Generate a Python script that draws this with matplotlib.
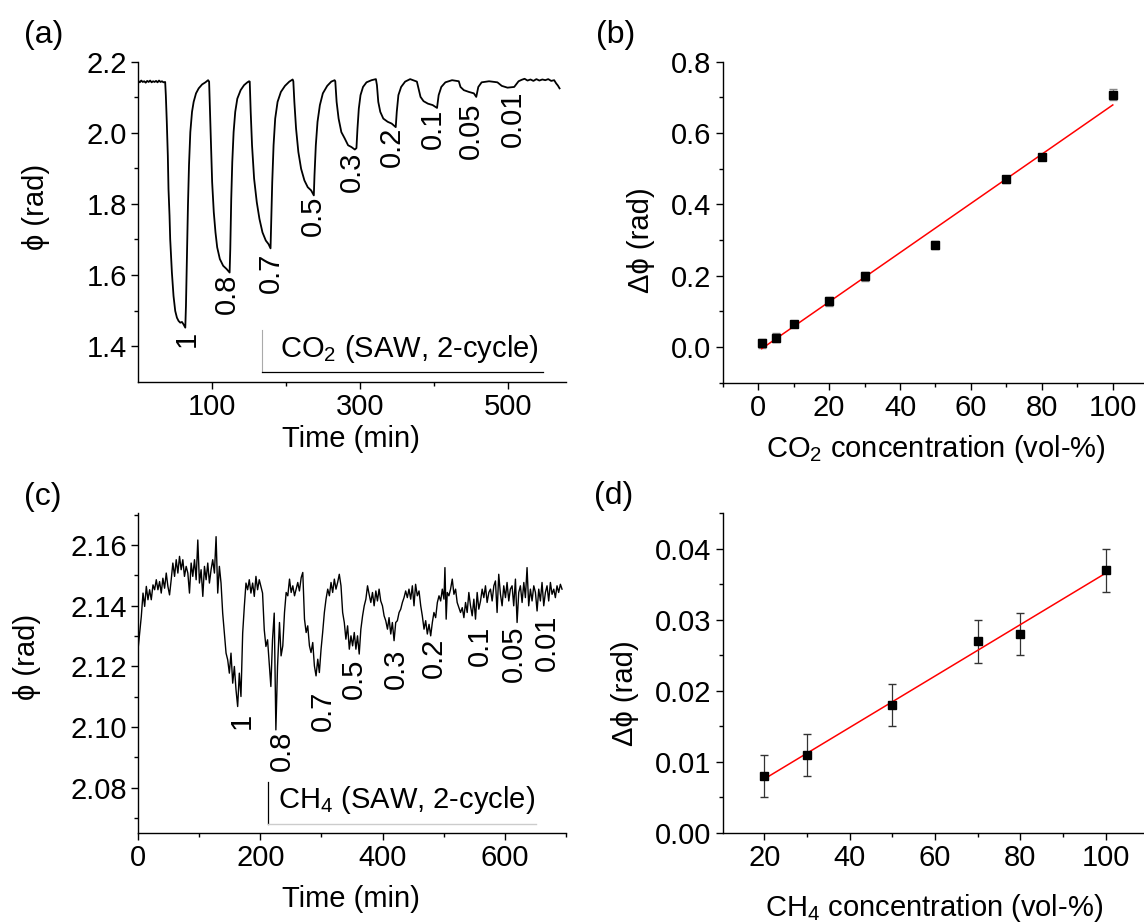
import numpy as np
import matplotlib
matplotlib.use('Agg')
import matplotlib.pyplot as plt
from matplotlib.ticker import FixedLocator, MultipleLocator, FormatStrFormatter

plt.rcParams['font.family'] = ['Liberation Sans', 'DejaVu Sans']
plt.rcParams['mathtext.fontset'] = 'custom'
plt.rcParams['mathtext.rm'] = 'Liberation Sans'
FS = 21

# ========== 数据 ==========
# (a) CO2 时间序列
t_co2 = [0, 2, 4, 6, 8, 10, 12, 14, 16, 18, 20, 22, 24, 26, 28, 30, 32, 34, 36.3,
         37.2, 38.5, 39.9, 40.8, 42.2, 43.1, 45.4, 47.6, 49.9, 52.2, 54.4, 56.7, 59, 61.2, 63.5,
         64.4, 65.8, 67.1, 68.5, 70.3, 72.6, 74.8, 78, 81.6, 86.2, 90.7, 94.3,
         95.7, 96.6, 98, 99.8, 102, 104.3, 106.6, 110.2, 114.7, 119.3, 123.4,
         124.3, 125.6, 127, 128.8, 131, 133.8, 138.3, 142.9, 147.4, 149.7,
         150.6, 151.9, 153.7, 156.5, 160.1, 163.7, 167.8, 172.3, 176, 178.7,
         179.6, 181, 182.8, 185, 188.2, 192.7, 198.2, 204.1, 208.6,
         209.5, 210.9, 213.2, 216.3, 220, 224.5, 229, 233.6, 237.2,
         238.1, 239.9, 242.2, 245.4, 249.4, 255.3, 260.8, 265.3,
         266.2, 268, 270.7, 274.4, 279, 283.5, 288, 292.6, 294.8,
         296.2, 298, 300.3, 303.7, 308.4, 315.2, 321.1,
         322.5, 324.3, 327, 331.1, 337, 342.4, 347.9,
         349.3, 351.5, 355.2, 360.6, 367.4, 376.5,
         378.7, 381.4, 385.5, 391.4, 397.8, 403.7,
         405.9, 409.5, 415, 424, 433.1,
         435.4, 439.9, 446.7, 453.5, 456.7,
         459.5, 464, 474, 485.3,
         491.2, 498.9, 508, 513.9, 518, 522, 526, 530, 534, 538, 542, 546, 550, 554,
         558, 562, 564.7, 567, 569.3]
phi_co2 = [2.146, 2.142, 2.147, 2.143, 2.145, 2.141, 2.146, 2.143, 2.147, 2.142, 2.145, 2.143,
           2.146, 2.142, 2.147, 2.143, 2.145, 2.142, 2.143,
           2.106, 2.031, 1.936, 1.842, 1.767, 1.701, 1.607, 1.541, 1.499, 1.480, 1.471, 1.466,
           1.468, 1.461, 1.452,
           1.513, 1.654, 1.795, 1.908, 2.002, 2.059, 2.087, 2.111, 2.125, 2.136, 2.142, 2.148,
           2.144, 2.078, 1.984, 1.861, 1.777, 1.720, 1.678, 1.645, 1.626, 1.617, 1.607,
           1.673, 1.814, 1.918, 2.002, 2.059, 2.096, 2.120, 2.134, 2.142, 2.145,
           2.144, 2.059, 1.965, 1.871, 1.805, 1.758, 1.720, 1.697, 1.687, 1.675,
           1.748, 1.861, 1.965, 2.040, 2.087, 2.115, 2.132, 2.144, 2.150,
           2.145, 2.087, 2.012, 1.946, 1.899, 1.866, 1.847, 1.838, 1.824,
           1.880, 1.965, 2.031, 2.078, 2.111, 2.132, 2.144, 2.148,
           2.145, 2.087, 2.040, 2.002, 1.984, 1.965, 1.960, 1.953, 1.957,
           2.012, 2.068, 2.106, 2.129, 2.142, 2.148, 2.151,
           2.134, 2.087, 2.059, 2.040, 2.031, 2.026, 2.016,
           2.059, 2.106, 2.129, 2.144, 2.151, 2.144,
           2.125, 2.101, 2.089, 2.082, 2.078, 2.070,
           2.106, 2.129, 2.142, 2.148, 2.145,
           2.129, 2.120, 2.115, 2.111, 2.101,
           2.129, 2.142, 2.145, 2.142,
           2.132, 2.127, 2.129, 2.145, 2.149, 2.152, 2.147, 2.150, 2.146, 2.151, 2.147, 2.150,
           2.148, 2.151, 2.146, 2.148, 2.139, 2.133, 2.125]
co2_labels = ['1', '0.8', '0.7', '0.5', '0.3', '0.2', '0.1', '0.05', '0.01']

# (b) CO2 标定
co2_conc = [1, 5, 10, 20, 30, 50, 70, 80, 100]
co2_dphi = [0.010, 0.026, 0.064, 0.128, 0.198, 0.286, 0.470, 0.533, 0.708]
co2_err = [0.012, 0.012, 0.008, 0.012, 0.012, 0.010, 0.010, 0.008, 0.015]

# (c) CH4 时间序列
t_ch4 = [0, 2.7, 5.4, 8.2, 10.9, 13.6, 16.3, 19, 21.7, 24.5, 27.2, 29.9, 32.6, 35.3, 38, 40.7,
         43.5, 46.2, 48.9, 51.6, 54.3, 57, 59.8, 62.5, 65.2, 67.9, 70.6, 73.3, 76, 78.8, 81.5,
         84.2, 86.9, 89.6, 92.4, 95.1, 97.8, 100.5, 103.2, 106, 108.7, 111.4, 114.1, 116.8,
         119.5, 122.2, 125, 127.7, 130.4, 133.1, 135.8, 138.5, 141.3, 144, 146.7, 149.4,
         152.1, 154.9, 157.6, 160.3, 163, 165.7, 168.4, 171.2, 173.9, 176.6, 179.3, 182,
         184.7, 187.5, 190.2, 192.9, 195.6, 198.3, 201, 203.7, 206.5, 209.2, 211.9, 214.6,
         217.3, 220, 222.8, 225.5, 228.2, 231.4, 234, 236.8, 239.6, 242.3, 245, 247.8, 250.5,
         253.2, 256, 258.6, 261.3, 264, 266.9, 269.5, 272.3, 275, 277.6, 280.4, 283, 285.8,
         288.5, 291.2, 294, 296.6, 299.4, 302, 304.8, 307.5, 310.3, 313, 315.7, 318.4, 321.1,
         323.8, 326.5, 329.2, 332, 334.7, 337.4, 340, 342.8, 345.6, 348.3, 351, 353.7, 356.4,
         359, 361.8, 364.5, 367.3, 370, 372.7, 375.4, 378, 380.8, 383.5, 386.2, 389, 391.6,
         394.3, 397, 399.8, 402.5, 405.2, 408, 410.6, 413.4, 416, 418.8, 421.5, 424.2, 427,
         429.7, 432.4, 435.1, 437.8, 440.5, 443.2, 446, 448.7, 451.4, 454, 456.8, 459.6,
         462.4, 465, 467.8, 470.5, 473.2, 476, 478.7, 481.4, 484, 486.8, 489.6, 492.3, 495,
         497.7, 500.4, 502, 504, 505.8, 508.5, 511.2, 514, 516.7, 519.4, 522, 524.8, 527.5,
         530.3, 533, 535.7, 538.4, 541.1, 543.8, 546.6, 549.3, 552, 554.7, 557.4, 560.2,
         562.9, 565.6, 568.3, 571, 573.8, 576.5, 579.2, 582, 584.6, 587.3, 590, 592.8, 595.5,
         598.2, 601, 603.6, 606.4, 609, 611.8, 614.5, 617.3, 620, 622.7, 625.4, 628.2, 631,
         633.6, 636.3, 639, 641.8, 644.5, 647.3, 650, 652.7, 655.4, 658.1, 660.8, 663.6,
         666.3, 669, 671.7, 674.5, 677.2, 680, 682.6, 685.3, 688, 690.8, 693.5]
phi_ch4 = [2.1254, 2.1309, 2.1364, 2.1441, 2.1397, 2.1463, 2.1419, 2.1452, 2.1419, 2.1468,
           2.1452, 2.1485, 2.1452, 2.1479, 2.1441, 2.1490, 2.1457, 2.1507, 2.1463, 2.1435,
           2.1485, 2.1540, 2.1496, 2.1551, 2.1507, 2.1562, 2.1518, 2.1551, 2.1496, 2.1529,
           2.1507, 2.1441, 2.1540, 2.1496, 2.1551, 2.1485, 2.1616, 2.1474, 2.1518, 2.1430,
           2.1529, 2.1485, 2.1540, 2.1474, 2.1518, 2.1551, 2.1507, 2.1627, 2.1441, 2.1529,
           2.1474, 2.1375, 2.1309, 2.1243, 2.1221, 2.1177, 2.1243, 2.1144, 2.1199, 2.1122,
           2.1067, 2.1177, 2.1100, 2.1309, 2.1397, 2.1474, 2.1452, 2.1485, 2.1441, 2.1474,
           2.1430, 2.1496, 2.1452, 2.1485, 2.1463, 2.1441, 2.1320, 2.1265, 2.1287, 2.1210,
           2.1133, 2.1287, 2.1375, 2.0990, 2.1199, 2.1344, 2.1234, 2.1267, 2.1377, 2.1443,
           2.1432, 2.1487, 2.1443, 2.1465, 2.1432, 2.1454, 2.1476, 2.1448, 2.1492, 2.1509,
           2.1355, 2.1311, 2.1333, 2.1267, 2.1245, 2.1278, 2.1201, 2.1168, 2.1223, 2.1179,
           2.1256, 2.1311, 2.1377, 2.1421, 2.1454, 2.1432, 2.1476, 2.1443, 2.1487, 2.1454,
           2.1476, 2.1503, 2.1465, 2.1377, 2.1344, 2.1289, 2.1333, 2.1256, 2.1300, 2.1267,
           2.1311, 2.1256, 2.1300, 2.1240, 2.1322, 2.1366, 2.1399, 2.1421, 2.1465, 2.1437,
           2.1410, 2.1443, 2.1399, 2.1448, 2.1415, 2.1454, 2.1415, 2.1399, 2.1366, 2.1350,
           2.1322, 2.1360, 2.1306, 2.1344, 2.1284, 2.1344, 2.1350, 2.1377, 2.1388, 2.1410,
           2.1426, 2.1448, 2.1426, 2.1454, 2.1421, 2.1465, 2.1399, 2.1470, 2.1432, 2.1448,
           2.1399, 2.1366, 2.1322, 2.1350, 2.1306, 2.1338, 2.1300, 2.1344, 2.1377, 2.1360,
           2.1410, 2.1432, 2.1415, 2.1454, 2.1421, 2.1525, 2.1355, 2.1443, 2.1432, 2.1454,
           2.1487, 2.1437, 2.1454, 2.1410, 2.1393, 2.1377, 2.1393, 2.1360, 2.1410, 2.1377,
           2.1443, 2.1399, 2.1366, 2.1421, 2.1355, 2.1443, 2.1388, 2.1415, 2.1454, 2.1426,
           2.1465, 2.1410, 2.1443, 2.1454, 2.1415, 2.1465, 2.1481, 2.1377, 2.1503, 2.1437,
           2.1399, 2.1465, 2.1426, 2.1476, 2.1415, 2.1454, 2.1465, 2.1399, 2.1487, 2.1344,
           2.1443, 2.1465, 2.1410, 2.1476, 2.1426, 2.1525, 2.1399, 2.1454, 2.1415, 2.1465,
           2.1443, 2.1382, 2.1454, 2.1415, 2.1476, 2.1399, 2.1443, 2.1465, 2.1415, 2.1476,
           2.1437, 2.1454, 2.1426, 2.1465, 2.1443, 2.1470, 2.1454]
ch4_labels = ['1', '0.8', '0.7', '0.5', '0.3', '0.2', '0.1', '0.05', '0.01']

# (d) CH4 标定
ch4_conc = [20, 30, 50, 70, 80, 100]
ch4_dphi = [0.008, 0.011, 0.018, 0.027, 0.028, 0.037]
ch4_err = [0.003, 0.003, 0.003, 0.003, 0.003, 0.003]

# 标注位置 (数据坐标)
co2_lab_t = [65.8, 120.2, 179, 235.8, 288, 342.4, 397.8, 449, 505.6]
co2_lab_y = [1.419, 1.546, 1.607, 1.767, 1.889, 1.960, 2.012, 2.007, 2.040]
ch4_lab_t = [170, 234.7, 302, 353.7, 421.5, 484, 558.5, 614.5, 668.8]
ch4_lab_y = [2.1018, 2.0921, 2.1053, 2.1157, 2.1190, 2.1229, 2.1267, 2.1240, 2.1278]

# ========== 画图 ==========
W, H = 1144, 922
fig = plt.figure(figsize=(W / 100, H / 100), dpi=100)

def add_ax(x0, y0, x1, y1):
    # 像素坐标 (左上原点) -> figure fraction
    return fig.add_axes([x0 / W, 1 - y1 / H, (x1 - x0) / W, (y1 - y0) / H])

axa = add_ax(138.3, 61.7, 566, 381.7)
axb = add_ax(722.7, 61.7, 1144, 382.7)
axc = add_ax(138, 513, 566, 833)
axd = add_ax(722.7, 512.7, 1144, 833)

for ax in (axa, axb, axc, axd):
    ax.spines['top'].set_visible(False)
    ax.spines['right'].set_visible(False)
    for s in ('left', 'bottom'):
        ax.spines[s].set_linewidth(1.0)
    ax.tick_params(which='major', direction='out', length=5, width=1.0, labelsize=FS, pad=3)
    ax.tick_params(which='minor', direction='out', length=3, width=1.0)

# ---- (a) ----
axa.plot(t_co2, phi_co2, color='black', lw=1.3)
axa.set_xlim(0, 578)
axa.set_ylim(1.3, 2.2)
axa.xaxis.set_major_locator(FixedLocator([100, 300, 500]))
axa.xaxis.set_minor_locator(FixedLocator([200, 400]))
axa.yaxis.set_major_locator(MultipleLocator(0.2))
axa.yaxis.set_minor_locator(FixedLocator([1.5, 1.7, 1.9, 2.1]))
axa.yaxis.set_major_formatter(FormatStrFormatter('%.1f'))
for lab, tx, ty in zip(co2_labels, co2_lab_t, co2_lab_y):
    axa.text(tx, ty, lab, rotation=90, ha='center', va='center', fontsize=FS)
axa.set_xlabel('Time (min)', fontsize=FS)
axa.set_ylabel('ϕ (rad)', fontsize=FS)
axa.xaxis.set_label_coords(0.498, -0.135)
axa.yaxis.set_label_coords(-0.206, 0.547)
axa.plot([0.289, 0.289], [0.162, 0.030], transform=axa.transAxes, color='#aaaaaa', lw=0.8, clip_on=False)
axa.plot([0.289, 0.946], [0.030, 0.030], transform=axa.transAxes, color='black', lw=0.9, clip_on=False)
axa.text(0.331, 0.078, r'CO$_\mathregular{2}$ (SAW, 2-cycle)', transform=axa.transAxes,
         fontsize=FS, ha='left', va='baseline')

# ---- (b) ----
kb = np.polyfit(co2_conc, co2_dphi, 1)
xb = np.array([min(co2_conc), max(co2_conc)])
axb.errorbar(co2_conc, co2_dphi, yerr=co2_err, fmt='none', ecolor='#888888', elinewidth=1.0, capsize=3)
axb.plot(xb, np.polyval(kb, xb), color='red', lw=1.1)
axb.plot(co2_conc, co2_dphi, 's', color='black', ms=6)
axb.set_xlim(-10, 108.8)
axb.set_ylim(-0.1, 0.8)
axb.xaxis.set_major_locator(MultipleLocator(20))
axb.xaxis.set_minor_locator(MultipleLocator(10))
axb.yaxis.set_major_locator(MultipleLocator(0.2))
axb.yaxis.set_minor_locator(MultipleLocator(0.1))
axb.yaxis.set_major_formatter(FormatStrFormatter('%.1f'))
axb.set_xlabel(r'CO$_\mathregular{2}$ concentration (vol-%)', fontsize=FS)
axb.set_ylabel('Δϕ (rad)', fontsize=FS)
axb.xaxis.set_label_coords(0.506, -0.158)
axb.yaxis.set_label_coords(-0.160, 0.445)

# ---- (c) ----
axc.plot(t_ch4, phi_ch4, color='black', lw=1.0)
axc.set_xlim(0, 700)
axc.set_ylim(2.065, 2.1705)
axc.xaxis.set_major_locator(MultipleLocator(200))
axc.xaxis.set_minor_locator(MultipleLocator(100))
axc.yaxis.set_major_locator(MultipleLocator(0.02))
axc.yaxis.set_minor_locator(MultipleLocator(0.01))
axc.yaxis.set_major_formatter(FormatStrFormatter('%.2f'))
for lab, tx, ty in zip(ch4_labels, ch4_lab_t, ch4_lab_y):
    axc.text(tx, ty, lab, rotation=90, ha='center', va='center', fontsize=FS)
axc.set_xlabel('Time (min)', fontsize=FS)
axc.set_ylabel('ϕ (rad)', fontsize=FS)
axc.xaxis.set_label_coords(0.498, -0.162)
axc.yaxis.set_label_coords(-0.227, 0.551)
axc.plot([0.3026, 0.3026], [0.160, 0.027], transform=axc.transAxes, color='black', lw=0.9, clip_on=False)
axc.plot([0.3026, 0.929], [0.027, 0.027], transform=axc.transAxes, color='#cccccc', lw=1.0, clip_on=False)
axc.text(0.326, 0.077, r'CH$_\mathregular{4}$ (SAW, 2-cycle)', transform=axc.transAxes,
         fontsize=FS, ha='left', va='baseline')

# ---- (d) ----
kd = np.polyfit(ch4_conc, ch4_dphi, 1)
xd = np.array([min(ch4_conc), max(ch4_conc)])
axd.errorbar(ch4_conc, ch4_dphi, yerr=ch4_err, fmt='none', ecolor='#333333', elinewidth=0.9, capsize=3)
axd.plot(xd, np.polyval(kd, xd), color='red', lw=1.1)
axd.plot(ch4_conc, ch4_dphi, 's', color='black', ms=5.5)
axd.set_xlim(10.2, 109)
axd.set_ylim(0, 0.0451)
axd.xaxis.set_major_locator(MultipleLocator(20))
axd.xaxis.set_minor_locator(MultipleLocator(10))
axd.yaxis.set_major_locator(MultipleLocator(0.01))
axd.yaxis.set_minor_locator(MultipleLocator(0.005))
axd.yaxis.set_major_formatter(FormatStrFormatter('%.2f'))
axd.set_xlabel(r'CH$_\mathregular{4}$ concentration (vol-%)', fontsize=FS)
axd.set_ylabel('Δϕ (rad)', fontsize=FS)
axd.xaxis.set_label_coords(0.502, -0.183)
axd.yaxis.set_label_coords(-0.199, 0.4375)

# 面板标签
for lab, px, py in [('(a)', 24, 35), ('(b)', 596, 35), ('(c)', 24, 497), ('(d)', 594, 496)]:
    fig.text(px / W, 1 - py / H, lab, fontsize=23, ha='left', va='center')

fig.savefig('out.png', dpi=100)
